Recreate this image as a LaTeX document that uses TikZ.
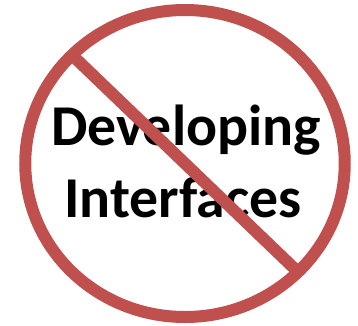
\documentclass[tikz,border=0pt]{standalone}
\usepackage{fontspec}
\newfontfamily\carl{Carlito}
\definecolor{signred}{RGB}{192,80,77}
\begin{document}
\begin{tikzpicture}[x=1bp,y=-1bp,
  ring/.style={draw=signred,line width=12bp},
  bar/.style={draw=signred,line width=12bp,line cap=butt},
  label/.style={font=\carl\bfseries\fontsize{58}{72}\selectfont,text=black,anchor=base,inner sep=0pt}]
\useasboundingbox (0,0) rectangle (358,326);
\coordinate (c) at (185,163.5);
\draw[ring] (c) ellipse [x radius=159.75bp, y radius=153.5bp];
\node[label] (t1) at (186,145) {Developing};
\node[label] (t2) at (183,217) {Interfaces};
\coordinate (a) at (72,55);
\coordinate (b) at (298,272);
\draw[bar] (a) -- (b);
\end{tikzpicture}
\end{document}
